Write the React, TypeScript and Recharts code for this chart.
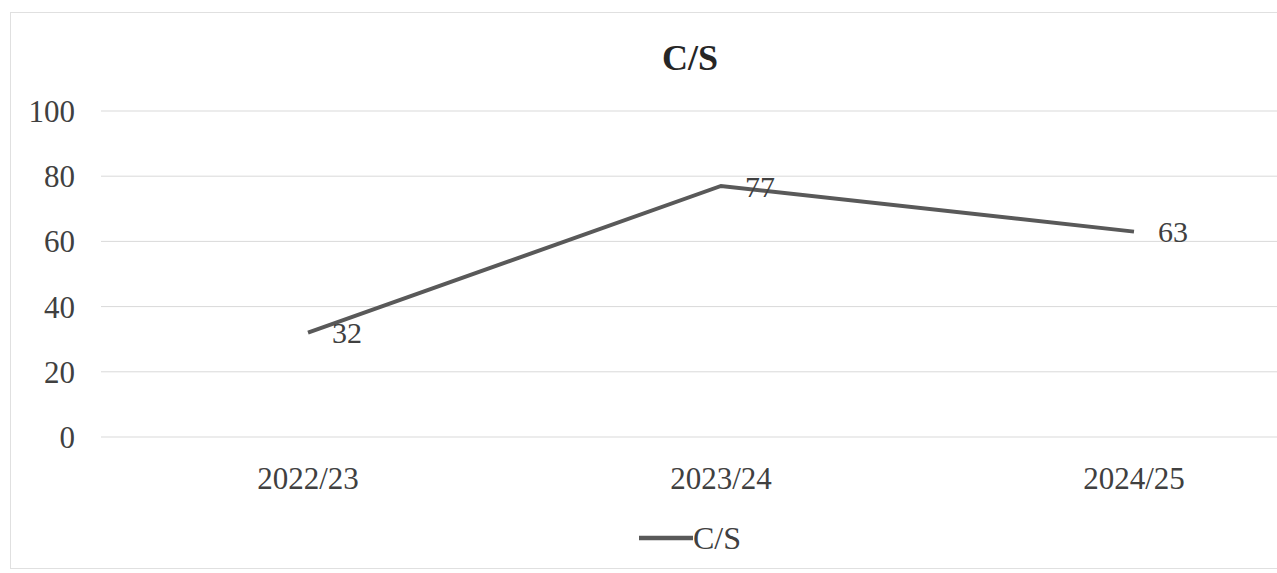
import React from "react";
import { LineChart, Line, XAxis, YAxis, CartesianGrid, Legend, LabelList } from "recharts";

const categories = ["2022/23", "2023/24", "2024/25"];
const csValues = [32, 77, 63];
const yTicks = [0, 20, 40, 60, 80, 100];
const seriesName = "C/S";
const titleText = "C/S";

const data = categories.map((c, i) => ({ year: c, cs: csValues[i] }));

const FONT = "'Liberation Serif', 'Times New Roman', serif";

const LegendContent = () => (
  <div style={{ display: "flex", justifyContent: "center", alignItems: "center", fontFamily: FONT, fontSize: 32, color: "#404040", height: 36 }}>
    <svg width={54} height={10}>
      <line x1={0} y1={5} x2={54} y2={5} stroke="#595959" strokeWidth={4.5} />
    </svg>
    <span>{seriesName}</span>
  </div>
);

export default function App() {
  return (
    <div style={{ position: "fixed", left: 0, top: 0, width: 1277, height: 573, overflow: "hidden", background: "#fff" }}>
      <div style={{ position: "absolute", left: 10, top: 12, width: 1400, height: 555, border: "1px solid #e0e0e0" }} />
      <div style={{ position: "absolute", left: 0, width: 1380, top: 38, lineHeight: "40px", textAlign: "center", fontFamily: FONT, fontWeight: "bold", fontSize: 36, color: "#262626" }}>
        {titleText}
      </div>
      <div style={{ position: "absolute", left: 0, top: 0 }}>
        <LineChart width={1380} height={573} data={data} margin={{ top: 111, right: 39, left: 0, bottom: 17 }}>
          <CartesianGrid vertical={false} stroke="#d9d9d9" strokeWidth={1} />
          <XAxis
            dataKey="year"
            axisLine={false}
            tickLine={false}
            tickSize={0}
            tickMargin={30}
            height={83}
            padding={{ left: 207, right: 207 }}
            tick={{ fontFamily: FONT, fontSize: 31, fill: "#404040" }}
          />
          <YAxis
            domain={[0, 100]}
            ticks={yTicks}
            axisLine={false}
            tickLine={false}
            tickSize={0}
            tickMargin={26}
            width={101}
            tick={{ fontFamily: FONT, fontSize: 31, fill: "#404040" }}
          />
          <Legend verticalAlign="bottom" height={36} wrapperStyle={{ left: 0, width: 1380 }} content={<LegendContent />} />
          <Line
            type="linear"
            dataKey="cs"
            name={seriesName}
            stroke="#595959"
            strokeWidth={4}
            dot={false}
            isAnimationActive={false}
          >
            <LabelList dataKey="cs" position="right" offset={24} style={{ fontFamily: FONT, fontSize: 30, fill: "#404040" }} />
          </Line>
        </LineChart>
      </div>
    </div>
  );
}
